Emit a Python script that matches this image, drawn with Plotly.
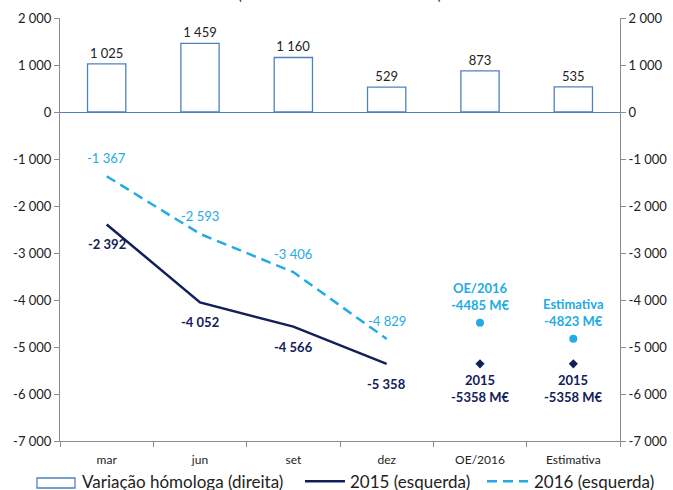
import plotly.graph_objects as go

categorias = ["mar", "jun", "set", "dez", "OE/2016", "Estimativa"]
variacao_homologa = [1025, 1459, 1160, 529, 873, 535]

meses = ["mar", "jun", "set", "dez"]
saldo_2015 = [-2392, -4052, -4566, -5358]
saldo_2016 = [-1367, -2593, -3406, -4829]

pontos_cat = ["OE/2016", "Estimativa"]
pontos_2016 = [-4485, -4823]
pontos_2015 = [-5358, -5358]

ticks_y = list(range(-7000, 2001, 1000))

nomes_legenda = ["Variação hómologa (direita)", "2015 (esquerda)", "2016 (esquerda)"]

AZUL_BARRA = "#4F81BD"
NAVY = "#12205A"
CIANO = "#22ABE6"
CINZA = "#8C8C8C"
FONTE = "Lato"
TRACO = "10px,6px"


def fmt(v):
    return f"{v:,}".replace(",", " ")


fig = go.Figure()

fig.add_trace(go.Bar(
    x=categorias, y=variacao_homologa, yaxis="y2",
    name=nomes_legenda[0],
    marker=dict(color="white", line=dict(color=AZUL_BARRA, width=1.3)),
    width=0.41,
    text=[fmt(v) for v in variacao_homologa],
    textposition="outside", cliponaxis=False,
    textfont=dict(size=13, color="#222222"),
))

fig.add_trace(go.Scatter(
    x=meses, y=saldo_2015, mode="lines", name=nomes_legenda[1],
    line=dict(color=NAVY, width=2.5),
))
fig.add_trace(go.Scatter(
    x=meses, y=saldo_2016, mode="lines", name=nomes_legenda[2],
    line=dict(color=CIANO, width=2.5, dash=TRACO),
))

fig.add_trace(go.Scatter(
    x=pontos_cat, y=pontos_2016, mode="markers",
    marker=dict(color=CIANO, size=8, symbol="circle"),
))
fig.add_trace(go.Scatter(
    x=pontos_cat, y=pontos_2015, mode="markers",
    marker=dict(color=NAVY, size=7, symbol="diamond"),
))

anots = []
for c, v in zip(meses, saldo_2015):
    anots.append(dict(x=c, y=v, text="<b>" + fmt(v) + "</b>", showarrow=False,
                      yshift=-20, font=dict(size=13, color=NAVY)))
for c, v in zip(meses, saldo_2016):
    anots.append(dict(x=c, y=v, text=fmt(v), showarrow=False,
                      yshift=18, font=dict(size=13, color=CIANO)))
for c, v in zip(pontos_cat, pontos_2016):
    anots.append(dict(x=c, y=v, text=f"<b>{c}<br>{v} M€</b>", showarrow=False,
                      yanchor="bottom", yshift=8,
                      font=dict(size=13, color=CIANO)))
for c, v in zip(pontos_cat, pontos_2015):
    anots.append(dict(x=c, y=v, text=f"<b>2015<br>{v} M€</b>", showarrow=False,
                      yanchor="top", yshift=-6,
                      font=dict(size=13, color=NAVY)))

# titulo cortado no topo da imagem (como no original)
anots.append(dict(xref="paper", yref="paper", x=0.5, y=1.03, yanchor="bottom",
                  text="(acumulado em milhões de euros)", showarrow=False,
                  font=dict(size=14, color="#222222")))

# legenda desenhada à mão (a do plotly parte em duas linhas)
y_leg = -0.095
x_textos = [0.0357, 0.5143, 0.8429]
for nome, xt in zip(nomes_legenda, x_textos):
    anots.append(dict(xref="paper", yref="paper", x=xt, y=y_leg,
                      xanchor="left", yanchor="middle", text=nome, showarrow=False,
                      font=dict(size=17, color="#222222")))

formas = [
    dict(type="rect", xref="paper", yref="paper", x0=-0.0411, x1=0.0268,
         y0=-0.0875, y1=-0.1111, line=dict(color=AZUL_BARRA, width=1.3),
         fillcolor="white"),
    dict(type="line", xref="paper", yref="paper", x0=0.4375, x1=0.5089,
         y0=y_leg, y1=y_leg, line=dict(color=NAVY, width=2.5)),
    dict(type="line", xref="paper", yref="paper", x0=0.7625, x1=0.8357,
         y0=y_leg, y1=y_leg, line=dict(color=CIANO, width=2.5, dash=TRACO)),
]

eixo_y = dict(
    range=[-7000, 2000], tickvals=ticks_y, ticktext=[fmt(t) for t in ticks_y],
    showgrid=False, zeroline=False, showline=True, linecolor=CINZA, linewidth=1,
    ticks="outside", ticklen=5, tickcolor=CINZA, automargin=False,
    tickfont=dict(size=13, color="#222222"),
)

fig.update_layout(
    width=673, height=490,
    margin=dict(l=60, r=53, t=18, b=49, autoexpand=False),
    plot_bgcolor="white", paper_bgcolor="white",
    font=dict(family=FONTE, size=13, color="#222222"),
    xaxis=dict(
        categoryorder="array", categoryarray=categorias,
        showgrid=False, showline=True, linecolor=CINZA, linewidth=1,
        ticks="outside", tickson="boundaries", ticklen=5, tickcolor=CINZA,
        ticklabelstandoff=8,
        tickfont=dict(size=12, color="#222222"), automargin=False,
    ),
    yaxis=eixo_y,
    yaxis2=dict(eixo_y, overlaying="y", side="right",
                zeroline=True, zerolinecolor=AZUL_BARRA, zerolinewidth=1.3),
    showlegend=False,
    annotations=anots,
    shapes=formas,
)

fig.write_html("out.html", config={"displayModeBar": False},
               post_script="document.body.style.margin='0';")
